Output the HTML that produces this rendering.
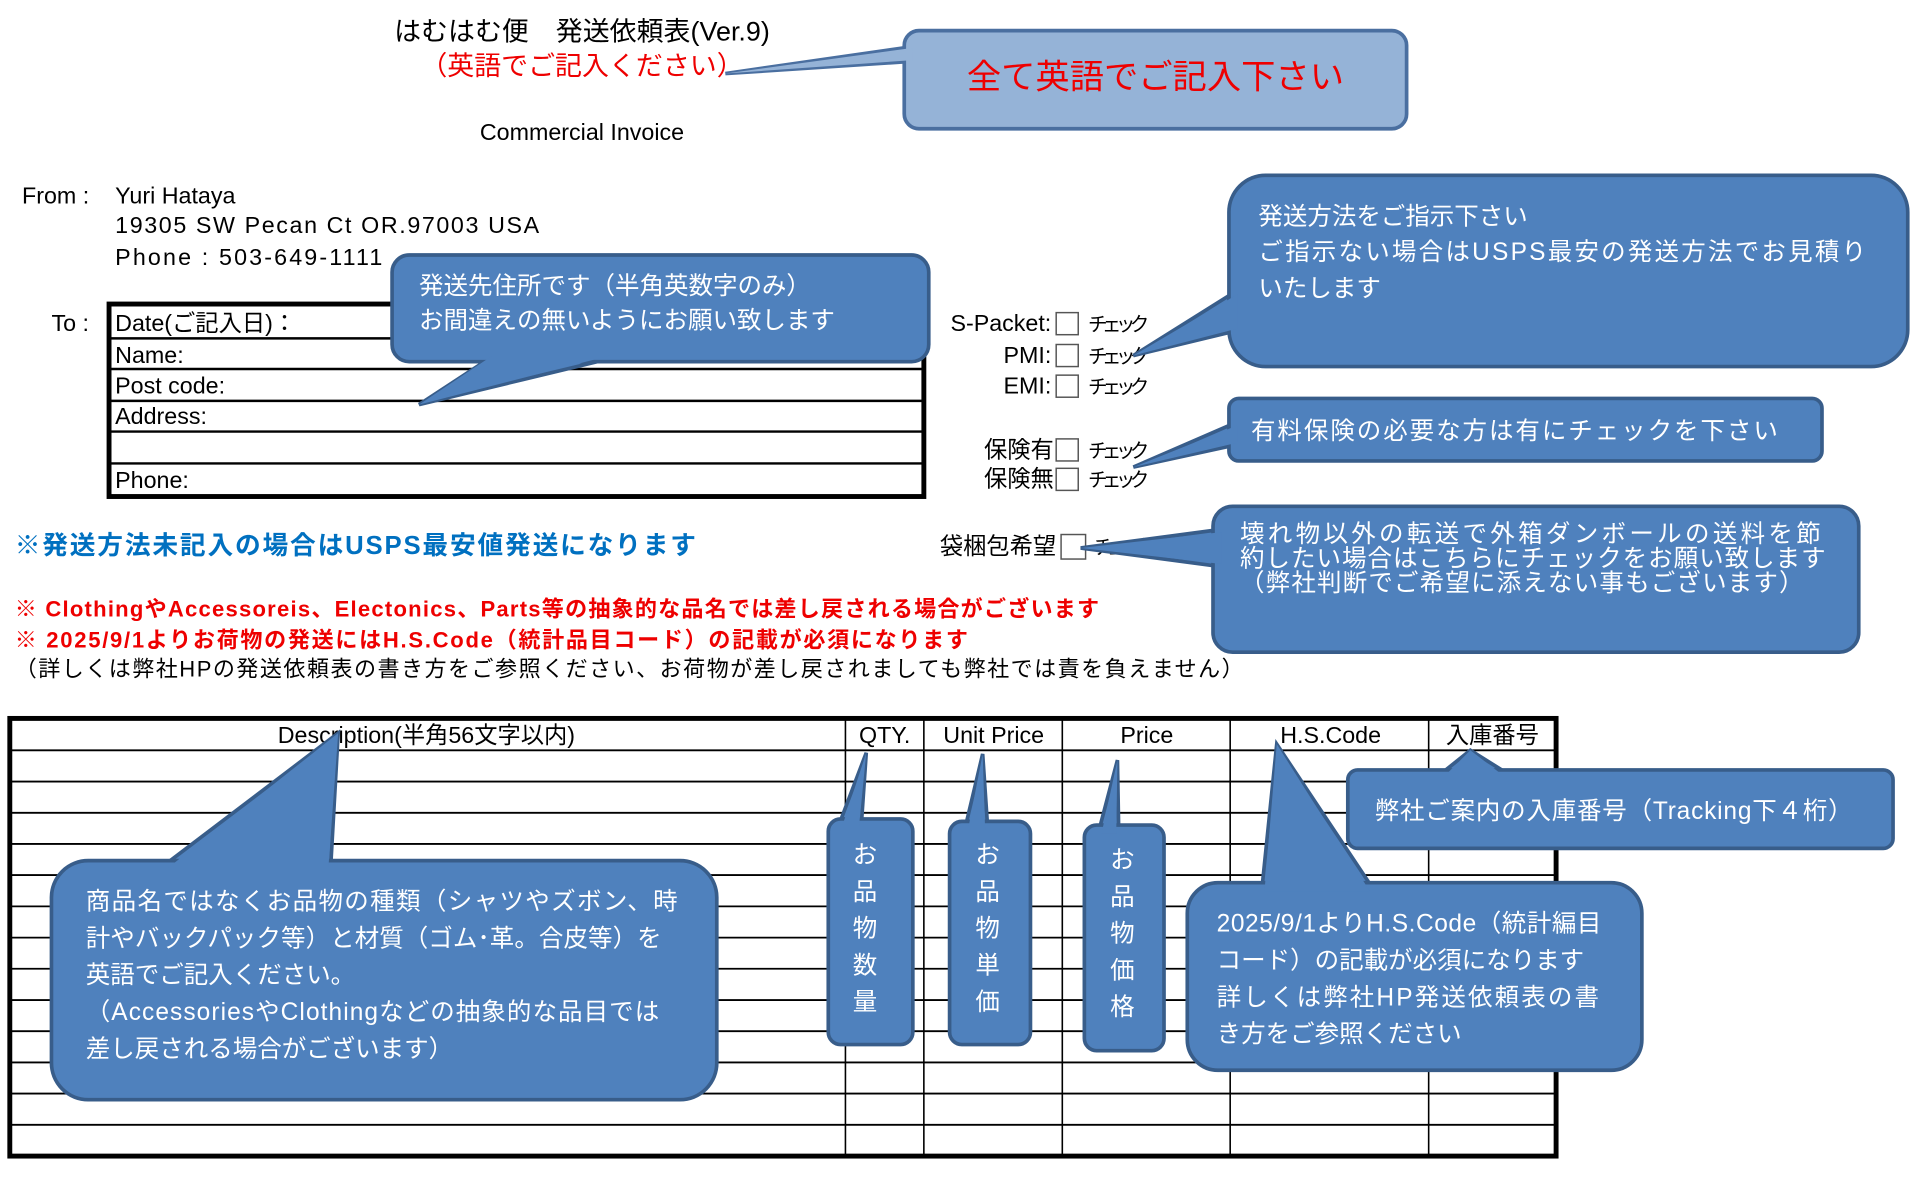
<!DOCTYPE html>
<html><head><meta charset="utf-8"><style>
html,body{margin:0;padding:0;background:#fff;}
svg{display:block}
text{font-family:"Liberation Sans","Noto Sans CJK JP",sans-serif;}
.w{fill:#fff;font-size:20px}
.k{fill:#000;font-size:19px}
</style></head><body>
<svg width="1920" height="1199" viewBox="0 0 1567 978" preserveAspectRatio="none" xmlns="http://www.w3.org/2000/svg">
<rect width="1567" height="978" fill="#fff"/>
<!-- header -->
<text x="475" y="33" font-size="22" text-anchor="middle">はむはむ便　発送依頼表(Ver.9)</text>
<text x="475" y="61" font-size="22" text-anchor="middle" fill="#e00">（英語でご記入ください）</text>
<text x="475" y="114" font-size="19" text-anchor="middle">Commercial Invoice</text>

<!-- top callout -->
<polygon points="592,60 745,38 745,50" fill="#95b3d7" stroke="#4a6fa0" stroke-width="3"/>
<rect x="738" y="25" width="410" height="80" rx="12" fill="#95b3d7" stroke="#4a6fa0" stroke-width="3"/>
<polygon points="592,60 745,39 745,49" fill="#95b3d7"/>
<text x="943" y="72" font-size="28" text-anchor="middle" fill="#e00">全て英語でご記入下さい</text>

<!-- from -->
<text x="18" y="166" class="k">From :</text>
<text x="94" y="166" class="k">Yuri Hataya</text>
<text x="94" y="190" class="k" textLength="346">19305 SW Pecan Ct OR.97003 USA</text>
<text x="94" y="216" class="k" textLength="218">Phone : 503-649-1111</text>
<text x="42" y="270" class="k">To :</text>

<!-- to table -->
<rect x="89" y="248" width="665" height="157" fill="none" stroke="#000" stroke-width="4"/>
<g stroke="#000" stroke-width="2">
<line x1="89" y1="276" x2="754" y2="276"/><line x1="89" y1="301" x2="754" y2="301"/>
<line x1="89" y1="327" x2="754" y2="327"/><line x1="89" y1="352" x2="754" y2="352"/>
<line x1="89" y1="378" x2="754" y2="378"/></g>
<text x="94" y="270" class="k">Date(ご記入日)：</text>
<text x="94" y="296" class="k">Name:</text>
<text x="94" y="321" class="k">Post code:</text>
<text x="94" y="346" class="k">Address:</text>
<text x="94" y="398" class="k">Phone:</text>

<!-- shipping options -->
<text x="858" y="270" text-anchor="end" class="k">S-Packet:</text>
<text x="858" y="296" text-anchor="end" class="k">PMI:</text>
<text x="858" y="321" text-anchor="end" class="k">EMI:</text>
<text x="860" y="373" text-anchor="end" class="k">保険有</text>
<text x="860" y="397" text-anchor="end" class="k">保険無</text>
<text x="862" y="452" text-anchor="end" class="k">袋梱包希望</text>
<g fill="#fff" stroke="#555" stroke-width="1.2">
<rect x="862" y="255" width="18" height="18"/><rect x="862" y="281" width="18" height="18"/>
<rect x="862" y="306" width="18" height="18"/><rect x="862" y="358" width="18" height="18"/>
<rect x="862" y="382" width="18" height="18"/><rect x="866" y="436" width="20" height="20"/>
</g>
<g font-size="16">
<text x="888" y="270" textLength="50">チェック</text><text x="888" y="296" textLength="50">チェック</text><text x="888" y="321" textLength="50">チェック</text>
<text x="888" y="373" textLength="50">チェック</text><text x="888" y="397" textLength="50">チェック</text><text x="892" y="452" textLength="50">チェック</text>
</g>

<!-- notes -->
<text x="12" y="452" font-size="21" font-weight="bold" fill="#0070c0" textLength="556">※発送方法未記入の場合はUSPS最安値発送になります</text>
<text x="12" y="503" font-size="18" font-weight="bold" fill="#e00" textLength="885">※ ClothingやAccessoreis、Electonics、Parts等の抽象的な品名では差し戻される場合がございます</text>
<text x="12" y="528" font-size="18" font-weight="bold" fill="#e00" textLength="778">※ 2025/9/1よりお荷物の発送にはH.S.Code（統計品目コード）の記載が必須になります</text>
<text x="12" y="552" font-size="18" textLength="1003">（詳しくは弊社HPの発送依頼表の書き方をご参照ください、お荷物が差し戻されましても弊社では責を負えません）</text>

<!-- bottom table -->
<g stroke="#000" stroke-width="1.5">
<line x1="7" y1="612" x2="1270" y2="612"/>
<line x1="7" y1="637.5" x2="1270" y2="637.5"/><line x1="7" y1="663" x2="1270" y2="663"/>
<line x1="7" y1="688.4" x2="1270" y2="688.4"/><line x1="7" y1="713.8" x2="1270" y2="713.8"/>
<line x1="7" y1="739.3" x2="1270" y2="739.3"/><line x1="7" y1="764.8" x2="1270" y2="764.8"/>
<line x1="7" y1="790.2" x2="1270" y2="790.2"/><line x1="7" y1="815.7" x2="1270" y2="815.7"/>
<line x1="7" y1="841.1" x2="1270" y2="841.1"/><line x1="7" y1="866.6" x2="1270" y2="866.6"/>
<line x1="7" y1="892" x2="1270" y2="892"/><line x1="7" y1="917.5" x2="1270" y2="917.5"/>
</g>
<g stroke="#000" stroke-width="1.3">
<line x1="690" y1="587" x2="690" y2="943"/><line x1="754" y1="587" x2="754" y2="943"/>
<line x1="867" y1="587" x2="867" y2="943"/><line x1="1004" y1="587" x2="1004" y2="943"/>
<line x1="1166" y1="587" x2="1166" y2="943"/></g>
<rect x="8" y="586" width="1262" height="357" fill="none" stroke="#000" stroke-width="4"/>
<g font-size="19">
<text x="348" y="606" text-anchor="middle">Description(半角56文字以内)</text>
<text x="722" y="606" text-anchor="middle">QTY.</text>
<text x="811" y="606" text-anchor="middle">Unit Price</text>
<text x="936" y="606" text-anchor="middle">Price</text>
<text x="1086" y="606" text-anchor="middle">H.S.Code</text>
<text x="1218" y="606" text-anchor="middle">入庫番号</text>
</g>

<!-- blue callouts -->
<g fill="#4f81bd" stroke="#385d8a" stroke-width="3">
<polygon points="342,330 400,292 500,292"/>
<rect x="320" y="208" width="438" height="87" rx="14"/>
<polygon points="925,290 1008,238 1008,270"/>
<rect x="1003" y="143" width="554" height="156" rx="30"/>
<polygon points="925,381 1008,345 1008,363"/>
<rect x="1003" y="325" width="484" height="51" rx="8"/>
<polygon points="882,447 995,432 995,462"/>
<rect x="990" y="413" width="527" height="119" rx="16"/>
<polygon points="276,598 135,705 270,705"/>
<rect x="42" y="702" width="543" height="195" rx="30"/>
<polygon points="707,614 685,672 703,672"/>
<rect x="676" y="668" width="69" height="184" rx="10"/>
<polygon points="802,615 788,674 806,674"/>
<rect x="775" y="670" width="66" height="182" rx="10"/>
<polygon points="912,620 897,677 913,677"/>
<rect x="885" y="673" width="65" height="184" rx="10"/>
<polygon points="1042,607 1030,724 1120,724"/>
<rect x="969" y="720" width="371" height="153" rx="25"/>
<polygon points="1200,612 1175,632 1232,632"/>
<rect x="1100" y="628" width="445" height="64" rx="8"/>
</g>
<g fill="#4f81bd">
<polygon points="342,330 402,290 498,290"/>
<polygon points="925,290 1010,240 1010,268"/>
<polygon points="925,381 1010,347 1010,361"/>
<polygon points="882,447 997,434 997,460"/>
<polygon points="276,598 137,708 268,708"/>
<polygon points="707,614 687,675 701,675"/>
<polygon points="802,615 790,677 804,677"/>
<polygon points="912,620 899,680 911,680"/>
<polygon points="1042,607 1032,727 1118,727"/>
<polygon points="1200,612 1177,635 1230,635"/>
</g>

<!-- callout text -->
<text x="342" y="240" class="w">発送先住所です（半角英数字のみ）</text>
<text x="342" y="268" class="w">お間違えの無いようにお願い致します</text>
<text x="1027" y="183" class="w">発送方法をご指示下さい</text>
<text x="1027" y="212" class="w" textLength="496">ご指示ない場合はUSPS最安の発送方法でお見積り</text>
<text x="1027" y="242" class="w">いたします</text>
<text x="1021" y="358" class="w" textLength="430">有料保険の必要な方は有にチェックを下さい</text>
<text x="1012" y="442" class="w" textLength="474">壊れ物以外の転送で外箱ダンボールの送料を節</text>
<text x="1012" y="462" class="w" textLength="478">約したい場合はこちらにチェックをお願い致します</text>
<text x="1012" y="482" class="w" textLength="460">（弊社判断でご希望に添えない事もございます）</text>
<text x="70" y="742" class="w" textLength="483">商品名ではなくお品物の種類（シャツやズボン、時</text>
<text x="70" y="772" class="w" textLength="470">計やバックパック等）と材質（ゴム･革。合皮等）を</text>
<text x="70" y="802" class="w">英語でご記入ください。</text>
<text x="70" y="832" class="w" textLength="468">（AccessoriesやClothingなどの抽象的な品目では</text>
<text x="70" y="862" class="w">差し戻される場合がございます）</text>
<g text-anchor="middle">
<text x="706" y="704" class="w">お</text><text x="706" y="734" class="w">品</text><text x="706" y="764" class="w">物</text><text x="706" y="794" class="w">数</text><text x="706" y="824" class="w">量</text>
<text x="806" y="704" class="w">お</text><text x="806" y="734" class="w">品</text><text x="806" y="764" class="w">物</text><text x="806" y="794" class="w">単</text><text x="806" y="824" class="w">価</text>
<text x="916" y="708" class="w">お</text><text x="916" y="738" class="w">品</text><text x="916" y="768" class="w">物</text><text x="916" y="798" class="w">価</text><text x="916" y="828" class="w">格</text>
</g>
<text x="993" y="760" class="w" textLength="314">2025/9/1よりH.S.Code（統計編目</text>
<text x="993" y="790" class="w">コード）の記載が必須になります</text>
<text x="993" y="820" class="w" textLength="312">詳しくは弊社HP発送依頼表の書</text>
<text x="993" y="850" class="w">き方をご参照ください</text>
<text x="1122" y="668" class="w" textLength="390">弊社ご案内の入庫番号（Tracking下４桁）</text>
</svg>
</body></html>
